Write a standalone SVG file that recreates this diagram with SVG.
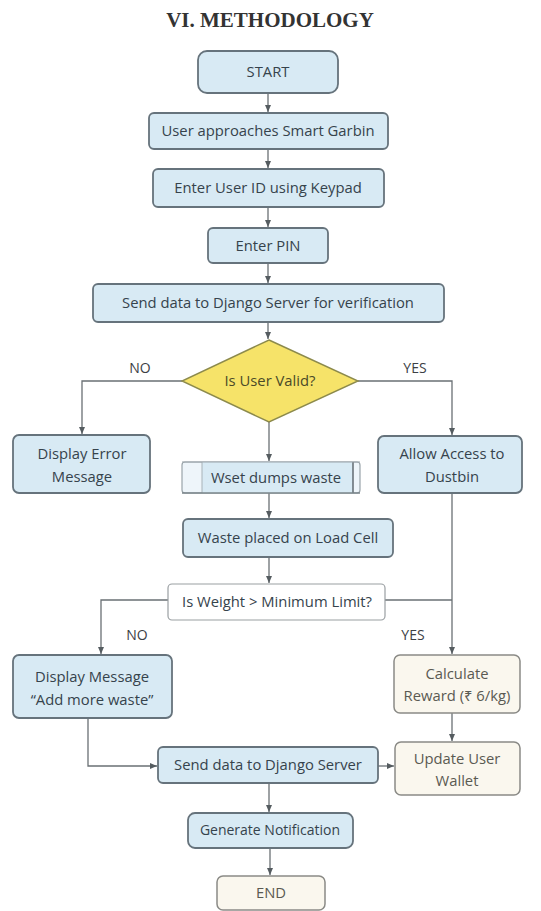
<svg xmlns="http://www.w3.org/2000/svg" width="541" height="911" viewBox="0 0 541 911">
<defs>
<marker id="ah" markerWidth="8" markerHeight="8" refX="7" refY="4" orient="auto" markerUnits="userSpaceOnUse">
<path d="M0,1 L7,4 L0,7 z" fill="#555c60"/>
</marker>
<style>
.blue{fill:#d8eaf4;stroke:#66737c;stroke-width:1.8}
.cream{fill:#faf7ee;stroke:#8a8a86;stroke-width:1.5}
.white{fill:#ffffff;stroke:#9a9fa2;stroke-width:1.2}
.dia{fill:#f6e369;stroke:#8c8a4c;stroke-width:1.4}
.t{font-family:"Open Sans","Noto Sans",sans-serif;font-size:14.8px;fill:#36434c;text-anchor:middle}
.tc{font-family:"Open Sans","Noto Sans",sans-serif;font-size:14.8px;fill:#5a5a52;text-anchor:middle}
.lbl{font-family:"Open Sans","Noto Sans",sans-serif;font-size:14px;fill:#3c4044;text-anchor:middle}
.c{fill:none;stroke:#6a7074;stroke-width:1.3}
</style>
</defs>
<rect width="541" height="911" fill="#ffffff"/>
<text x="270" y="27" font-family="Liberation Serif,serif" font-weight="bold" font-size="21" fill="#333" text-anchor="middle">VI. METHODOLOGY</text>

<g id="connectors">
<path class="c" d="M268,93 V112" marker-end="url(#ah)"/>
<path class="c" d="M268,149 V168" marker-end="url(#ah)"/>
<path class="c" d="M268,207 V227" marker-end="url(#ah)"/>
<path class="c" d="M268,263 V283" marker-end="url(#ah)"/>
<path class="c" d="M268,322 V339" marker-end="url(#ah)"/>
<path class="c" d="M182,381 H82 V434" marker-end="url(#ah)"/>
<path class="c" d="M358,381 H452 V435" marker-end="url(#ah)"/>
<path class="c" d="M269,422 V461" marker-end="url(#ah)"/>
<path class="c" d="M269,493 V518" marker-end="url(#ah)"/>
<path class="c" d="M269,557 V583" marker-end="url(#ah)"/>
<path class="c" d="M168,600 H101 V654" marker-end="url(#ah)"/>
<path class="c" d="M385,600 H452"/>
<path class="c" d="M452,493 V654" marker-end="url(#ah)"/>
<path class="c" d="M452,713 V741" marker-end="url(#ah)"/>
<path class="c" d="M88,718 V766 H157" marker-end="url(#ah)"/>
<path class="c" d="M378,766 H394" marker-end="url(#ah)"/>
<path class="c" d="M269,783 V812" marker-end="url(#ah)"/>
<path class="c" d="M270,848 V875" marker-end="url(#ah)"/>
</g>

<g id="start"><rect class="blue" x="198" y="51" width="140" height="42" rx="9"/><text class="t" x="268" y="77">START</text></g>
<g id="approach"><rect class="blue" x="149" y="113" width="239" height="36" rx="5"/><text class="t" x="268" y="136">User approaches Smart Garbin</text></g>
<g id="userid"><rect class="blue" x="153" y="169" width="231" height="38" rx="5"/><text class="t" x="268" y="193">Enter User ID using Keypad</text></g>
<g id="pin"><rect class="blue" x="208" y="228" width="120" height="35" rx="5"/><text class="t" x="268" y="251">Enter PIN</text></g>
<g id="sendverify"><rect class="blue" x="93" y="284" width="351" height="38" rx="5"/><text class="t" x="268" y="308">Send data to Django Server for verification</text></g>
<g id="valid"><polygon class="dia" points="269,340 358,381 269,422 182,381"/><text class="t" x="270" y="386" style="fill:#4a4a28">Is User Valid?</text></g>
<g id="error"><rect class="blue" x="13" y="435" width="137" height="58" rx="6"/><text class="t" x="82" y="459">Display Error</text><text class="t" x="82" y="482">Message</text></g>
<g id="access"><rect class="blue" x="378" y="436" width="144" height="57" rx="6"/><text class="t" x="452" y="459">Allow Access to</text><text class="t" x="452" y="482">Dustbin</text></g>
<g id="dumps"><rect x="182" y="462" width="178" height="31" rx="3" fill="#eef5fa" stroke="#9aa4aa" stroke-width="1.2"/><rect x="202" y="462" width="151" height="31" fill="#d8eaf4"/><line x1="202" y1="462" x2="202" y2="493" stroke="#a8b2b8" stroke-width="1"/><line x1="353" y1="462" x2="353" y2="493" stroke="#5a6268" stroke-width="1.4"/><line x1="182" y1="462" x2="360" y2="462" stroke="#9aa4aa" stroke-width="1.2"/><line x1="182" y1="493" x2="360" y2="493" stroke="#7a848a" stroke-width="1.4"/><text class="t" x="276" y="483">Wset dumps waste</text></g>
<g id="loadcell"><rect class="blue" x="183" y="519" width="210" height="38" rx="5"/><text class="t" x="288" y="543">Waste placed on Load Cell</text></g>
<g id="weight"><rect class="white" x="168" y="584" width="217" height="36" rx="4"/><text class="t" x="277" y="607">Is Weight &gt; Minimum Limit?</text></g>
<text class="lbl" x="140" y="373">NO</text>
<text class="lbl" x="415" y="373">YES</text>
<text class="lbl" x="137" y="640">NO</text>
<text class="lbl" x="413" y="640">YES</text>
<g id="addmore"><rect class="blue" x="13" y="655" width="159" height="63" rx="6"/><text class="t" x="92" y="682">Display Message</text><text class="t" x="92" y="705">“Add more waste”</text></g>
<g id="reward"><rect class="cream" x="394" y="655" width="126" height="58" rx="6"/><text class="tc" x="457" y="679">Calculate</text><text class="tc" x="457" y="701">Reward (₹ 6/kg)</text></g>
<g id="wallet"><rect class="cream" x="395" y="742" width="125" height="53" rx="6"/><text class="tc" x="457" y="764">Update User</text><text class="tc" x="457" y="786">Wallet</text></g>
<g id="senddjango"><rect class="blue" x="158" y="747" width="220" height="36" rx="5"/><text class="t" x="268" y="770">Send data to Django Server</text></g>
<g id="notify"><rect class="blue" x="188" y="813" width="165" height="35" rx="7"/><text class="t" x="270" y="835" style="font-size:14px">Generate Notification</text></g>
<g id="end"><rect class="cream" x="217" y="876" width="108" height="34" rx="6"/><text class="tc" x="271" y="898">END</text></g>
</svg>
